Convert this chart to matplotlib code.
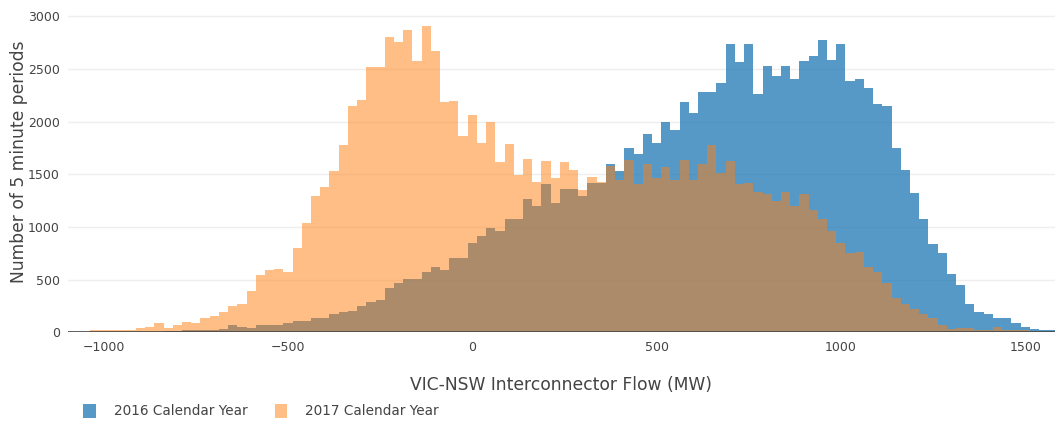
import numpy as np
import matplotlib
matplotlib.use('Agg')
import matplotlib.pyplot as plt
from matplotlib.patches import Patch

# histogram counts, 25 MW bins
bin_width = 25
first_center_2016 = -875
first_center_2017 = -1025

counts_2016 = [
  3, 5, 8, 15, 19, 19, 22, 25, 28, 70,
  51, 44, 70, 70, 73, 92, 108, 111, 133, 133,
  174, 196, 199, 250, 285, 307, 424, 465, 503, 503,
  572, 620, 591, 708, 708, 851, 917, 990, 965, 1072,
  1072, 1265, 1202, 1408, 1230, 1360, 1360, 1297, 1420, 1420,
  1594, 1528, 1749, 1689, 1879, 1800, 1993, 1923, 2182, 2081,
  2277, 2277, 2366, 2736, 2565, 2736, 2258, 2530, 2432, 2530,
  2401, 2575, 2619, 2774, 2584, 2736, 2382, 2401, 2322, 2170,
  2148, 1749, 1537, 1319, 1078, 838, 750, 554, 445, 269,
  196, 176, 138, 138, 89, 51, 28, 20, 20,
]

counts_2017 = [
  19, 19, 19, 19, 19, 42, 52, 89, 44, 74,
  95, 89, 133, 155, 196, 250, 269, 392, 544, 591,
  601, 576, 797, 1034, 1294, 1382, 1528, 1778, 2148, 2205,
  2515, 2515, 2799, 2758, 2866, 2575, 2904, 2670, 2182, 2192,
  1863, 2059, 1800, 1993, 1616, 1790, 1490, 1642, 1427, 1623,
  1468, 1613, 1537, 1354, 1471, 1427, 1581, 1442, 1638, 1408,
  1600, 1468, 1572, 1442, 1635, 1442, 1600, 1774, 1509, 1623,
  1408, 1417, 1335, 1313, 1243, 1332, 1199, 1316, 1158, 1075,
  958, 851, 750, 765, 620, 569, 465, 329, 272, 225,
  175, 132, 68, 28, 42, 42, 22, 22, 47, 26,
  26, 19, 11, 6,
]

series_labels = ['2016 Calendar Year', '2017 Calendar Year']
x_ticks = [-1000, -500, 0, 500, 1000, 1500]
y_ticks = [0, 500, 1000, 1500, 2000, 2500, 3000]

blue = '#1f77b4'
orange = '#ff7f0e'
text_color = '#444444'

def main():
  plt.rcParams['font.family'] = ['DejaVu Sans']
  fig = plt.figure(figsize=(10.55, 4.24), dpi=100)
  ax = fig.add_axes([68 / 1055, 1 - 332.3 / 424, 1 - 68 / 1055, (332.3 - 11) / 424])

  centers_2016 = first_center_2016 + bin_width * np.arange(len(counts_2016))
  centers_2017 = first_center_2017 + bin_width * np.arange(len(counts_2017))

  ax.bar(centers_2016, counts_2016, width=bin_width, color=blue, alpha=0.75, linewidth=0, zorder=2)
  ax.bar(centers_2017, counts_2017, width=bin_width, color=orange, alpha=0.5, linewidth=0, zorder=3)

  ax.set_xlim(-1097, 1581)
  ax.set_ylim(0, 3049)
  ax.set_xticks(x_ticks)
  ax.set_xticklabels(['\u2212' + str(-t) if t < 0 else str(t) for t in x_ticks])
  ax.set_yticks(y_ticks)
  ax.grid(axis='y', color='#eeeeee', linewidth=1, zorder=0)
  ax.set_axisbelow(True)
  ax.axhline(0, color=text_color, linewidth=1.2, zorder=4)
  for s in ax.spines.values():
    s.set_visible(False)
  ax.tick_params(axis='both', length=0, labelsize=9, labelcolor=text_color)
  ax.tick_params(axis='x', pad=6)
  ax.tick_params(axis='y', pad=6)

  ax.set_xlabel('VIC-NSW Interconnector Flow (MW)', fontsize=12.3, color=text_color, labelpad=16)
  ax.set_ylabel('Number of 5 minute periods', fontsize=12.3, color=text_color)
  ax.yaxis.set_label_coords(-0.041, 0.53)

  handles = [Patch(facecolor=blue, alpha=0.75, linewidth=0),
             Patch(facecolor=orange, alpha=0.5, linewidth=0)]
  fig.legend(handles, series_labels, loc='center left', bbox_to_anchor=(71 / 1055, 1 - 411 / 424),
             ncol=2, frameon=False, fontsize=9.8, labelcolor=text_color,
             handlelength=0.9, handleheight=1.3, handletextpad=1.35, columnspacing=2.0)

  fig.savefig('out.png', dpi=100)
  plt.close(fig)


if __name__ == '__main__':
  main()
